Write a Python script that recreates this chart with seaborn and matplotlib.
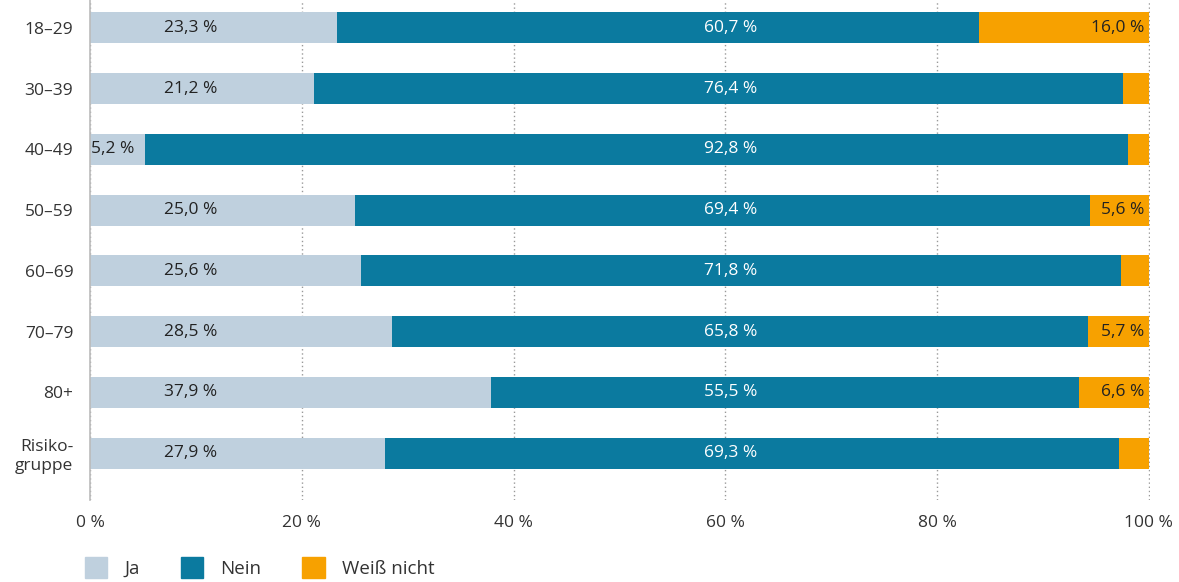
import numpy as np
import pandas as pd
import seaborn as sns
import matplotlib.pyplot as plt
from matplotlib.patches import Patch

gruppen = ['18–29', '30–39', '40–49', '50–59', '60–69', '70–79', '80+', 'Risiko-\ngruppe']
ja = [23.3, 21.2, 5.2, 25.0, 25.6, 28.5, 37.9, 27.9]
nein = [60.7, 76.4, 92.8, 69.4, 71.8, 65.8, 55.5, 69.3]
weiss_nicht = [16.0, 2.4, 2.0, 5.6, 2.6, 5.7, 6.6, 2.8]

col_ja = '#bfd0de'
col_nein = '#0b7a9f'
col_wn = '#f7a100'

sns.set_theme(style='white')
plt.rcParams['font.family'] = ['Open Sans', 'DejaVu Sans']

df = pd.DataFrame({'gruppe': gruppen, 'ja': ja, 'nein': nein, 'wn': weiss_nicht})
df['ja_nein'] = df['ja'] + df['nein']
df['total'] = df['ja_nein'] + df['wn']

fig = plt.figure(figsize=(11.79, 5.82), dpi=100)
ax = fig.add_axes([0.0763, 0.141, 0.899, 0.859])

# gestapelte Balken: erst Gesamt, dann Ja+Nein, dann Ja drüber
sns.barplot(data=df, x='total', y='gruppe', color=col_wn, width=0.51, orient='h',
            saturation=1, ax=ax)
sns.barplot(data=df, x='ja_nein', y='gruppe', color=col_nein, width=0.51, orient='h',
            saturation=1, ax=ax)
sns.barplot(data=df, x='ja', y='gruppe', color=col_ja, width=0.51, orient='h',
            saturation=1, ax=ax)

for k, p in enumerate(ax.patches):
    p.set_linewidth(0)
    p.set_zorder(2 + k / 100)

def fmt(v):
    return f'{v:.1f}'.replace('.', ',') + ' %'

for i, row in df.iterrows():
    if row['ja'] > 15:
        ax.text(9.5, i, fmt(row['ja']), ha='center', va='center',
                fontsize=12.5, color='#222222', zorder=5)
    else:
        ax.text(0.1, i, fmt(row['ja']), ha='left', va='center',
                fontsize=12.5, color='#222222', zorder=5)
    ax.text(60.5, i, fmt(row['nein']), ha='center', va='center',
            fontsize=12.5, color='white', zorder=5)
    if row['wn'] >= 5:
        ax.text(99.6, i, fmt(row['wn']), ha='right', va='center',
                fontsize=12.5, color='#222222', zorder=5)

ax.set_xlim(0, 100.1)
ax.set_ylim(7.77, -0.46)
ax.set_xticks([0, 20, 40, 60, 80, 100])
ax.set_xticklabels(['0 %', '20 %', '40 %', '60 %', '80 %', '100 %'])
ax.tick_params(axis='x', length=0, pad=11, labelsize=12.5, labelcolor='#333333')
ax.tick_params(axis='y', length=0, pad=12, labelsize=12.5, labelcolor='#333333')
ax.set_xlabel('')
ax.set_ylabel('')
ax.xaxis.grid(True, linestyle=(0, (1, 2)), color='#999999', linewidth=1)
ax.set_axisbelow(True)

for s in ['top', 'right', 'bottom']:
    ax.spines[s].set_visible(False)
ax.spines['left'].set_color('#bbbbbb')
ax.spines['left'].set_linewidth(1.2)

handles = [Patch(color=col_ja, label='Ja'), Patch(color=col_nein, label='Nein'),
           Patch(color=col_wn, label='Weiß nicht')]
fig.legend(handles=handles, loc='lower left', bbox_to_anchor=(0.0575, -0.022), ncol=3,
           frameon=False, fontsize=13.5, handlelength=1.2, handleheight=1.3,
           columnspacing=2.2, handletextpad=0.9, labelcolor='#333333')

fig.savefig('out.png', dpi=100)
